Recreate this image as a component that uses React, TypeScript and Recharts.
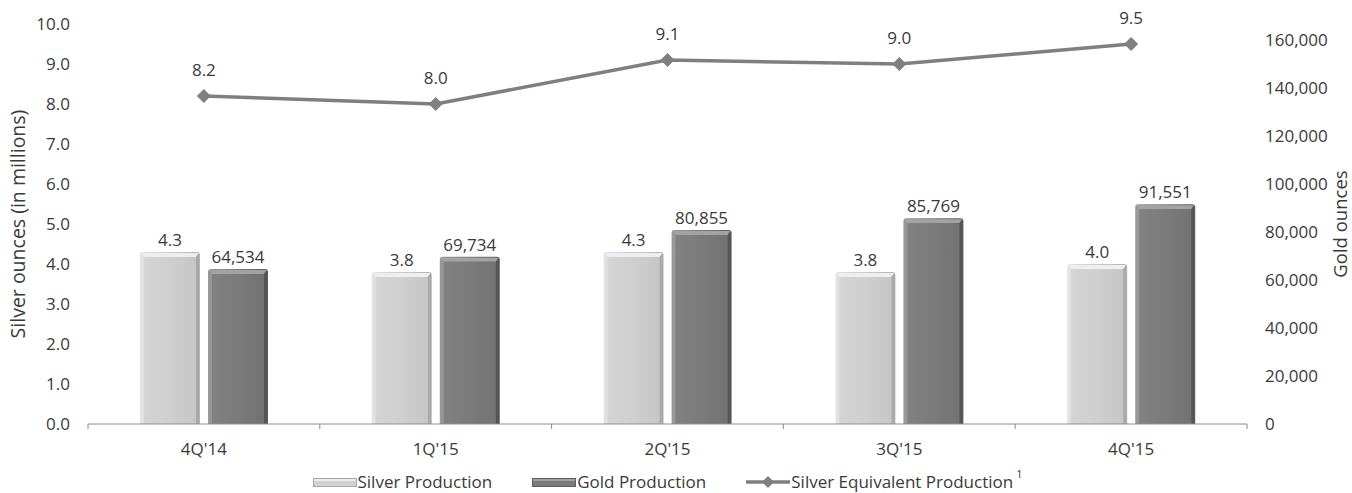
import React from 'react';
import {
  ComposedChart, Bar, Line, XAxis, YAxis, Legend, LabelList, Label,
} from 'recharts';

const categories = ["4Q'14", "1Q'15", "2Q'15", "3Q'15", "4Q'15"];
const silverProduction = [4.3, 3.8, 4.3, 3.8, 4.0];
const goldProduction = [64534, 69734, 80855, 85769, 91551];
const silverEquivalent = [8.2, 8.0, 9.1, 9.0, 9.5];
const leftTicks = [0, 1, 2, 3, 4, 5, 6, 7, 8, 9, 10];
const rightTicks = [0, 20000, 40000, 60000, 80000, 100000, 120000, 140000, 160000];
const seriesNames = ['Silver Production', 'Gold Production', 'Silver Equivalent Production'];

const data = categories.map((c, i) => ({
  cat: c,
  silver: silverProduction[i],
  gold: goldProduction[i],
  eq: silverEquivalent[i],
}));

const W = 1352;
const H = 493;
const LEFT_W = 88;
const RIGHT_W = 105;
const PLOT_W = W - LEFT_W - RIGHT_W;
const FONT = '"Open Sans", sans-serif';
const FS = 17;
const TXT = '#3a3a3a';
const LINE_C = '#7f7f7f';

const makeBevel = (id: string, top: string, right: string) => (props: any) => {
  const { x, y, width, height } = props;
  if (!height || height <= 0) return null;
  const r = 3;
  const e = 4;
  const outer = `M${x},${y + height} L${x},${y + r} Q${x},${y} ${x + r},${y} L${x + width - r},${y} Q${x + width},${y} ${x + width},${y + r} L${x + width},${y + height} Z`;
  return (
    <g>
      <path d={outer} fill={`url(#${id}-edge)`} />
      <polygon
        points={`${x + 1},${y + 1} ${x + width - 1},${y + 1} ${x + width - e},${y + e + 1} ${x + e},${y + e + 1}`}
        fill={top}
      />
      <polygon
        points={`${x + width - e},${y + e + 1} ${x + width - 1},${y + 1} ${x + width - 1},${y + height} ${x + width - e},${y + height}`}
        fill={right}
      />
      <rect x={x + e} y={y + e + 1} width={width - 2 * e} height={height - e - 1} fill={`url(#${id}-face)`} />
    </g>
  );
};

const SilverBar = makeBevel('sv', '#eeeeee', '#a9a9a9');
const GoldBar = makeBevel('gd', '#a3a3a3', '#555555');

const Diamond = (props: any) => {
  const { cx, cy } = props;
  if (cx == null || cy == null) return null;
  const s = 7;
  return <polygon points={`${cx},${cy - s} ${cx + s},${cy} ${cx},${cy + s} ${cx - s},${cy}`} fill={LINE_C} />;
};

const XTick = (props: any) => {
  const { x, y, payload, index } = props;
  const band = PLOT_W / categories.length;
  const axisY = y - 8;
  return (
    <g>
      <line x1={x - band / 2} y1={axisY} x2={x - band / 2} y2={axisY + 5} stroke="#8c8c8c" />
      {index === categories.length - 1 && (
        <line x1={x + band / 2} y1={axisY} x2={x + band / 2} y2={axisY + 5} stroke="#8c8c8c" />
      )}
      <text x={x} y={axisY + 25} dy="0.355em" textAnchor="middle" fill={TXT} fontSize={FS} fontFamily={FONT}>
        {payload.value}
      </text>
    </g>
  );
};

const LegendContent = () => {
  const swatch = (i: number) => {
    if (i === 0)
      return (
        <svg width={44} height={12}>
          <rect x={0.5} y={2.5} width={43} height={8} fill="#d2d2d2" stroke="#a8a8a8" strokeWidth={1} />
          <rect x={1} y={3} width={42} height={2} fill="#ededed" />
        </svg>
      );
    if (i === 1)
      return (
        <svg width={44} height={12}>
          <rect x={0.5} y={2.5} width={43} height={8} fill="#7b7b7b" stroke="#5f5f5f" strokeWidth={1} />
          <rect x={1} y={3} width={42} height={2} fill="#a0a0a0" />
        </svg>
      );
    return (
      <svg width={44} height={14}>
        <line x1={0} y1={7} x2={44} y2={7} stroke={LINE_C} strokeWidth={3.5} />
        <polygon points="22,1 28,7 22,13 16,7" fill={LINE_C} />
      </svg>
    );
  };
  return (
    <div
      style={{
        width: W,
        height: 35,
        boxSizing: 'border-box',
        paddingLeft: LEFT_W,
        paddingRight: RIGHT_W,
        paddingTop: 12,
        display: 'flex',
        justifyContent: 'center',
        alignItems: 'center',
        fontFamily: FONT,
        fontSize: FS,
        lineHeight: '20px',
        color: TXT,
        gap: 40,
      }}
    >
      {seriesNames.map((n, i) => (
        <div key={n} style={{ display: 'flex', alignItems: 'center', gap: 1, whiteSpace: 'nowrap' }}>
          {swatch(i)}
          <span>
            {n}
            {i === 2 && (
              <sup style={{ fontSize: 11, marginLeft: 3, position: 'relative', top: -3, lineHeight: 0 }}>1</sup>
            )}
          </span>
        </div>
      ))}
    </div>
  );
};

const LeftTitle = (props: any) => {
  const vb = props.viewBox || {};
  const cy = (vb.y || 0) + (vb.height || 0) / 2;
  const cx = 18;
  return (
    <text x={cx} y={cy} transform={`rotate(-90, ${cx}, ${cy})`} textAnchor="middle" dy="0.355em"
      fill={TXT} fontSize={19.5} fontFamily={FONT}>
      Silver ounces (in millions)
    </text>
  );
};

const RightTitle = (props: any) => {
  const vb = props.viewBox || {};
  const cy = (vb.y || 0) + (vb.height || 0) / 2;
  const cx = 1340;
  return (
    <text x={cx} y={cy} transform={`rotate(-90, ${cx}, ${cy})`} textAnchor="middle" dy="0.355em"
      fill={TXT} fontSize={18.5} fontFamily={FONT}>
      Gold ounces
    </text>
  );
};

export default function App() {
  return (
    <div style={{ position: 'absolute', left: 0, top: 0, width: W, height: H, background: '#fff' }}>
      <ComposedChart
        width={W}
        height={H}
        data={data}
        margin={{ top: 24, right: 0, left: 0, bottom: 0 }}
        barGap={8}
      >
        <defs>
          <linearGradient id="sv-edge" x1="0" y1="0" x2="1" y2="0">
            <stop offset="0" stopColor="#e4e4e4" />
            <stop offset="1" stopColor="#b3b3b3" />
          </linearGradient>
          <linearGradient id="sv-face" x1="0" y1="0" x2="1" y2="0">
            <stop offset="0" stopColor="#d4d4d4" />
            <stop offset="0.5" stopColor="#cfcfcf" />
            <stop offset="1" stopColor="#c6c6c6" />
          </linearGradient>
          <linearGradient id="gd-edge" x1="0" y1="0" x2="1" y2="0">
            <stop offset="0" stopColor="#9a9a9a" />
            <stop offset="1" stopColor="#5a5a5a" />
          </linearGradient>
          <linearGradient id="gd-face" x1="0" y1="0" x2="1" y2="0">
            <stop offset="0" stopColor="#818181" />
            <stop offset="0.5" stopColor="#7b7b7b" />
            <stop offset="1" stopColor="#727272" />
          </linearGradient>
        </defs>
        <XAxis
          dataKey="cat"
          height={34}
          axisLine={{ stroke: '#8c8c8c' }}
          tickLine={false}
          tick={<XTick />}
          interval={0}
        />
        <YAxis
          yAxisId="left"
          orientation="left"
          width={LEFT_W}
          domain={[0, 10]}
          ticks={leftTicks}
          interval={0}
          axisLine={false}
          tickLine={false}
          tickMargin={12}
          tickFormatter={(v: number) => v.toFixed(1)}
          tick={{ fill: TXT, fontSize: FS, fontFamily: FONT }}
        >
          <Label content={<LeftTitle />} />
        </YAxis>
        <YAxis
          yAxisId="right"
          orientation="right"
          width={RIGHT_W}
          domain={[0, 166667]}
          ticks={rightTicks}
          interval={0}
          axisLine={false}
          tickLine={false}
          tickMargin={12}
          tickFormatter={(v: number) => v.toLocaleString('en-US')}
          tick={{ fill: TXT, fontSize: FS, fontFamily: FONT, textAnchor: 'start' }}
        >
          <Label content={<RightTitle />} />
        </YAxis>
        <Legend verticalAlign="bottom" align="left" content={<LegendContent />} wrapperStyle={{ left: 0, width: W, height: 35 }} />
        <Bar yAxisId="left" dataKey="silver" name={seriesNames[0]} barSize={60} fill="#cfcfcf"
          shape={SilverBar} isAnimationActive={false}>
          <LabelList dataKey="silver" position="top" offset={6}
            formatter={(v: any) => Number(v).toFixed(1)}
            style={{ fill: TXT, fontSize: FS, fontFamily: FONT }} />
        </Bar>
        <Bar yAxisId="right" dataKey="gold" name={seriesNames[1]} barSize={60} fill="#7b7b7b"
          shape={GoldBar} isAnimationActive={false}>
          <LabelList dataKey="gold" position="top" offset={6}
            formatter={(v: any) => Number(v).toLocaleString('en-US')}
            style={{ fill: TXT, fontSize: FS, fontFamily: FONT }} />
        </Bar>
        <Line yAxisId="left" dataKey="eq" name={seriesNames[2]} stroke={LINE_C} strokeWidth={3.5}
          dot={<Diamond />} activeDot={false} isAnimationActive={false}>
          <LabelList dataKey="eq" position="top" offset={20}
            formatter={(v: any) => Number(v).toFixed(1)}
            style={{ fill: TXT, fontSize: FS, fontFamily: FONT }} />
        </Line>
      </ComposedChart>
    </div>
  );
}
